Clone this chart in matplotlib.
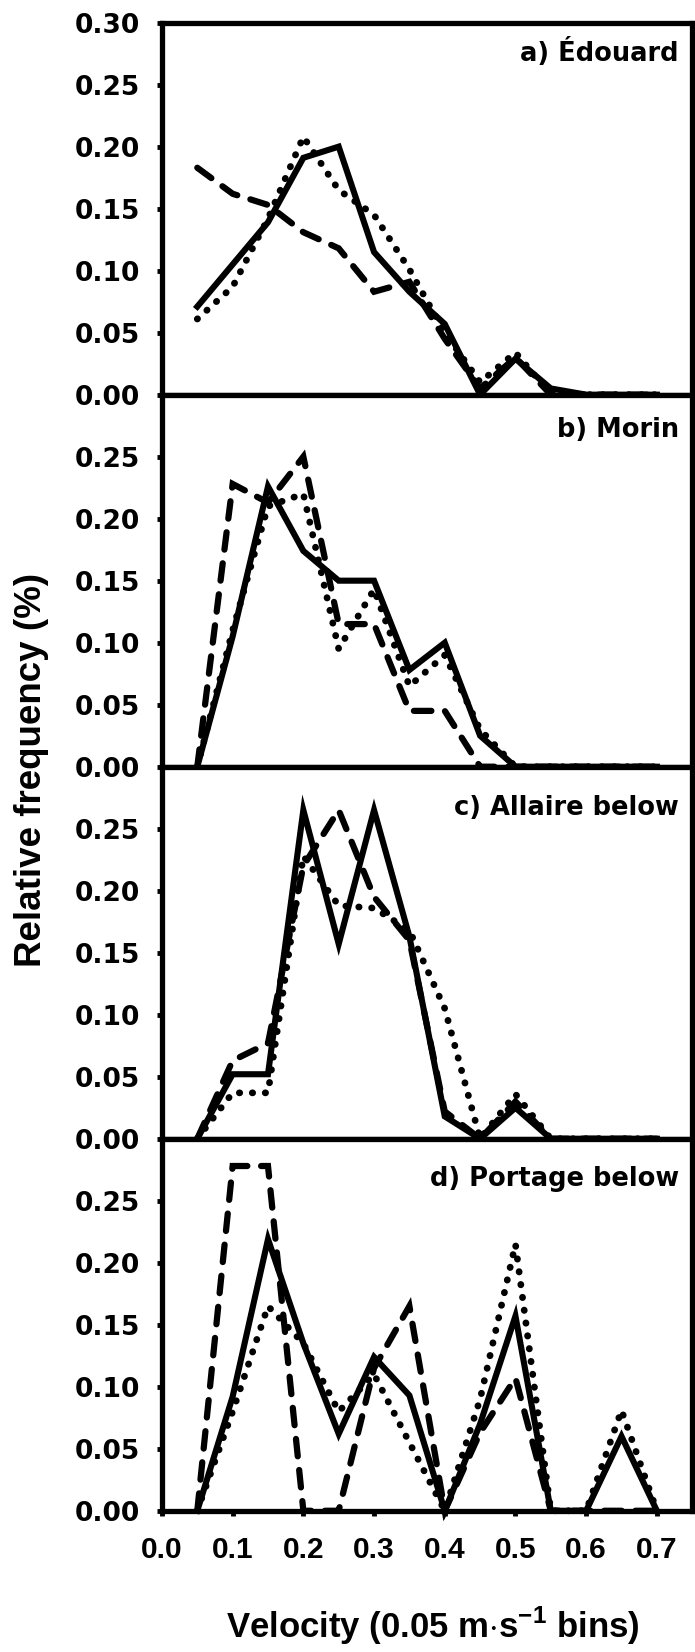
import numpy as np
import matplotlib
matplotlib.use("Agg")
import matplotlib.pyplot as plt

plt.rcParams['font.family'] = ['Liberation Sans', 'DejaVu Sans']
plt.rcParams['font.weight'] = 'bold'
plt.rcParams['mathtext.fontset'] = 'custom'
plt.rcParams['mathtext.rm'] = 'Liberation Sans:bold'
plt.rcParams['mathtext.bf'] = 'Liberation Sans:bold'

# velocity bins (m/s)
velocity = [0.05, 0.10, 0.15, 0.20, 0.25, 0.30, 0.35, 0.40, 0.45, 0.50, 0.55, 0.60, 0.65, 0.70]

panel_names = ['a) Édouard', 'b) Morin', 'c) Allaire below', 'd) Portage below']

# relative frequency, three series per site (solid, dotted, dashed)
edouard_solid = [0.071, 0.105, 0.139, 0.191, 0.200, 0.115, 0.083, 0.057, 0.0, 0.029, 0.005, 0.0, 0.0, 0.0]
edouard_dotted = [0.061, 0.087, 0.142, 0.208, 0.165, 0.145, 0.101, 0.050, 0.010, 0.034, 0.0, 0.0, 0.0, 0.0]
edouard_dashed = [0.183, 0.162, 0.153, 0.131, 0.118, 0.083, 0.091, 0.045, 0.005, 0.030, 0.0, 0.0, 0.0, 0.0]

morin_solid = [0.0, 0.105, 0.226, 0.174, 0.150, 0.150, 0.078, 0.100, 0.025, 0.0, 0.0, 0.0, 0.0, 0.0]
morin_dotted = [0.0, 0.110, 0.210, 0.220, 0.095, 0.143, 0.065, 0.090, 0.030, 0.0, 0.0, 0.0, 0.0, 0.0]
morin_dashed = [0.0, 0.228, 0.213, 0.250, 0.115, 0.115, 0.045, 0.045, 0.0, 0.0, 0.0, 0.0, 0.0, 0.0]

allaire_solid = [0.0, 0.052, 0.052, 0.265, 0.157, 0.265, 0.163, 0.018, 0.0, 0.025, 0.0, 0.0, 0.0, 0.0]
allaire_dotted = [0.0, 0.037, 0.037, 0.228, 0.188, 0.186, 0.168, 0.105, 0.0, 0.036, 0.0, 0.0, 0.0, 0.0]
allaire_dashed = [0.0, 0.063, 0.077, 0.220, 0.265, 0.195, 0.160, 0.022, 0.0, 0.030, 0.0, 0.0, 0.0, 0.0]

portage_solid = [0.0, 0.092, 0.219, 0.135, 0.062, 0.124, 0.093, 0.0, 0.070, 0.157, 0.0, 0.0, 0.060, 0.0]
portage_dotted = [0.0, 0.080, 0.165, 0.135, 0.080, 0.110, 0.055, 0.0, 0.090, 0.215, 0.0, 0.0, 0.081, 0.0]
portage_dashed = [0.0, 0.278, 0.278, 0.0, 0.0, 0.115, 0.165, 0.0, 0.063, 0.107, 0.0, 0.0, 0.0, 0.0]

series = [
    (edouard_solid, edouard_dotted, edouard_dashed),
    (morin_solid, morin_dotted, morin_dashed),
    (allaire_solid, allaire_dotted, allaire_dashed),
    (portage_solid, portage_dotted, portage_dashed),
]

# baseline of the panel label (axes fraction)
label_y = [0.897, 0.887, 0.871, 0.874]

fig = plt.figure(figsize=(6.95, 16.52), dpi=100)
axes = fig.subplots(4, 1, sharex=True)
fig.subplots_adjust(left=0.233, right=0.996, top=0.9863, bottom=0.0855, hspace=0)

xticks = np.arange(0, 0.71, 0.1)

for i, ax in enumerate(axes):
    solid, dotted, dashed = series[i]
    ax.plot(velocity, dashed, color='black', lw=4.5, linestyle=(0, (2.8, 2.2)),
            dash_capstyle='round', dash_joinstyle='miter', clip_on=False)
    ax.plot(velocity, dotted, color='black', lw=4.9, linestyle=(0, (0.05, 1.85)),
            dash_capstyle='round', clip_on=False)
    ax.plot(velocity, solid, color='black', lw=4.4, solid_joinstyle='miter', clip_on=False)

    ax.set_xlim(0, 0.75)
    ax.set_ylim(0, 0.30)
    if i == 0:
        yt = np.arange(0, 0.301, 0.05)
    else:
        yt = np.arange(0, 0.251, 0.05)
    ax.set_yticks(yt, labels=['%.2f' % v for v in yt], fontfamily='DejaVu Sans',
                  fontsize=19, fontweight='bold')
    ax.set_xticks(xticks, labels=['%.1f' % v for v in xticks], fontsize=21.5, fontweight='bold')

    for s in ax.spines.values():
        s.set_linewidth(3.8)
    ax.tick_params(axis='both', direction='out', length=3.5, width=3.5)
    ax.tick_params(axis='y', pad=12)
    ax.tick_params(axis='x', pad=15)

    ax.text(0.975, label_y[i], panel_names[i], transform=ax.transAxes, ha='right',
            va='baseline', fontsize=18.5, fontweight='bold', fontfamily='DejaVu Sans')

fig.text(0.045, 0.534, 'Relative frequency (%)', rotation=90, ha='center', va='center',
         fontsize=26.5, fontweight='bold')
fig.text(0.623, 0.0085, r'Velocity (0.05 m$\cdot$s$^{-1}$ bins)', ha='center', va='baseline',
         fontsize=25, fontweight='bold')

fig.savefig('out.png', dpi=100)
